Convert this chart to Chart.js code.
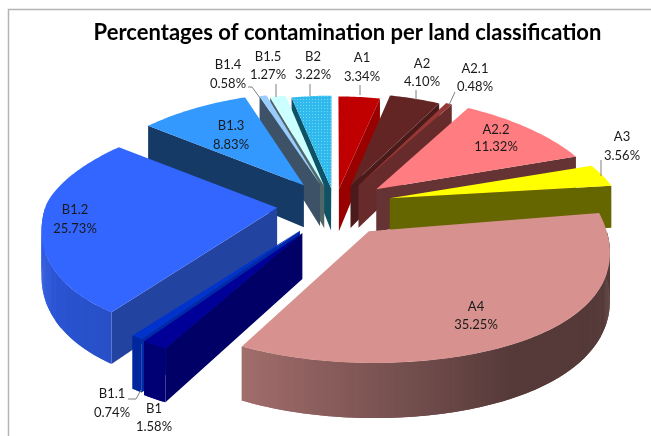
<!DOCTYPE html>
<html>
<head>
<meta charset="utf-8">
<style>
  html, body { margin: 0; padding: 0; background: #fff; }
  canvas { display: block; }
</style>
<script src="https://cdn.jsdelivr.net/npm/chart.js@4"></script>
</head>
<body>
<canvas id="chart" width="651" height="436"></canvas>
<script>
// land classes, clockwise from 12 o'clock
const categories = ['A1', 'A2', 'A2.1', 'A2.2', 'A3', 'A4', 'B1', 'B1.1', 'B1.2', 'B1.3', 'B1.4', 'B1.5', 'B2'];
const percentages = [3.34, 4.10, 0.48, 11.32, 3.56, 35.25, 1.58, 0.74, 25.73, 8.83, 0.58, 1.27, 3.22];

const topColors = ['#C00000', '#632523', '#953735', '#FF7C80', '#FFFF00', '#D79290', '#000099', '#0033CC', '#3366FF', '#3399FF', '#99CCFF', '#CCFFFF', 'pattern'];
const wallColors = ['#990000', '#4A1B1A', '#662B2A', '#663334', '#666600', '#563C3B', '#000066', '#0029A8', '#2244A0', '#163A66', '#3D5266', '#516666', '#0F5266'];
const explode = [38, 48, 52, 56, 57, 58, 60, 58, 58, 57, 52, 46, 40];

// label anchors: centre x, first line y, second line y
const labelSpots = [[362, 58, 77], [422, 64, 82], [475, 69, 87], [496, 130, 147], [622, 137, 156], [476, 307, 325],
  [154, 409, 427], [112, 394, 413], [75, 210, 229], [231, 126, 145], [228, 65, 84], [268, 57, 75], [313, 57, 75]];
const leaders = [
  [[360, 85], [360, 95]], [[416, 90], [416, 100]], [[455, 92], [449, 105]], [[601, 160], [601, 176]],
  [[248, 87], [252, 87], [260, 98]], [[276, 84], [276, 97]], [[310, 84], [310, 96]], [[128, 399], [136, 399], [141, 390]]
];

const view = { cx: 335, cy: 204, radius: 231, tiltBack: 0.40, tiltFront: 0.57, persp: 0.14, depth: 44, depthSlope: 0.04 };

function project(u, v, h) {
  const p = 1 / (1 - view.persp * v / view.radius);
  const tilt = v < 0 ? view.tiltBack : view.tiltFront;
  return { x: view.cx + u * p, y: view.cy + tilt * v + h * (view.depth + view.depthSlope * v) };
}

function dottedPattern(ctx) {
  const c = document.createElement('canvas');
  c.width = c.height = 3;
  const g = c.getContext('2d');
  g.fillStyle = '#2FB9EC';
  g.fillRect(0, 0, 3, 3);
  g.fillStyle = '#6FD6F6';
  g.fillRect(0, 0, 1, 1);
  return ctx.createPattern(c, 'repeat');
}

function shade(hex, f) {
  const n = parseInt(hex.slice(1), 16);
  return 'rgb(' + [(n >> 16) & 255, (n >> 8) & 255, n & 255].map(c => Math.round(c * f)).join(',') + ')';
}

// rim gets lighter going round to the left side
function rimShade(a) {
  const deg = a * 180 / Math.PI;
  if (deg < 150) return 0.4;
  if (deg < 210) return 0.4 + (deg - 150) / 60 * 0.36;
  return 0.76 + (deg - 210) / 60 * 0.14;
}

function fillPoly(ctx, pts, color) {
  ctx.beginPath();
  pts.forEach((q, i) => i ? ctx.lineTo(q.x, q.y) : ctx.moveTo(q.x, q.y));
  ctx.closePath();
  ctx.fillStyle = color;
  ctx.fill();
}

const pie3d = {
  id: 'pie3d',
  // the arc elements give the angles and offsets, we only project them
  beforeDatasetDraw(chart, args) {
    const ctx = chart.ctx;
    const arcs = chart.getDatasetMeta(args.index).data;
    const slices = arcs.map((arc, i) => {
      const a0 = arc.startAngle + Math.PI / 2;
      const a1 = arc.endAngle + Math.PI / 2;
      const mid = (a0 + a1) / 2;
      return { i, a0, a1, mid, ex: arc.options.offset * Math.sin(mid), ey: -arc.options.offset * Math.cos(mid) };
    }).sort((s, t) => -Math.cos(s.mid) - -Math.cos(t.mid));

    slices.forEach(s => {
      const R = view.radius;
      const at = (a, r, h) => project(s.ex + r * Math.sin(a), s.ey - r * Math.cos(a), h);
      const top = topColors[s.i] === 'pattern' ? dottedPattern(ctx) : topColors[s.i];
      const wall = wallColors[s.i];

      // cut faces that look towards the viewer
      if (Math.sin(s.a0) < 0) {
        fillPoly(ctx, [at(s.a0, 0, 0), at(s.a0, R, 0), at(s.a0, R, 1), at(s.a0, 0, 1)], wall);
      }
      if (Math.sin(s.a1) > 0) {
        fillPoly(ctx, [at(s.a1, 0, 0), at(s.a1, R, 0), at(s.a1, R, 1), at(s.a1, 0, 1)], wall);
      }

      const steps = Math.max(4, Math.ceil((s.a1 - s.a0) * 60));
      const da = (s.a1 - s.a0) / steps;

      // outer rim, front half only
      const from = Math.max(s.a0, Math.PI / 2);
      const to = Math.min(s.a1, Math.PI * 1.5);
      if (to > from) {
        const base = topColors[s.i];
        const n = Math.ceil((to - from) * 120);
        const d = (to - from) / n;
        for (let k = 0; k < n; k++) {
          const a = from + k * d;
          const b = Math.min(to, a + d * 2);
          const quad = [at(a, R, 0), at(b, R, 0), at(b, R, 1), at(a, R, 1)];
          fillPoly(ctx, quad, shade(base, rimShade(a)));
        }
      }

      const face = [at(s.a0, 0, 0)];
      for (let k = 0; k <= steps; k++) face.push(at(s.a0 + k * da, R, 0));
      fillPoly(ctx, face, top);
    });
    return false;
  },
  afterDraw(chart) {
    const ctx = chart.ctx;
    ctx.save();
    // frame of the pasted picture, only top and left show
    ctx.strokeStyle = '#B4B4B4';
    ctx.lineWidth = 1.5;
    ctx.beginPath();
    ctx.moveTo(8.5, 436);
    ctx.lineTo(8.5, 9.5);
    ctx.lineTo(651, 9.5);
    ctx.stroke();

    ctx.strokeStyle = '#7F7F7F';
    ctx.lineWidth = 1;
    leaders.forEach(line => {
      ctx.beginPath();
      line.forEach((q, i) => i ? ctx.lineTo(q[0], q[1]) : ctx.moveTo(q[0], q[1]));
      ctx.stroke();
    });

    ctx.font = '13px Lato';
    ctx.fillStyle = '#1a1a1a';
    ctx.textAlign = 'center';
    ctx.textBaseline = 'middle';
    categories.forEach((name, i) => {
      const spot = labelSpots[i];
      ctx.fillText(name, spot[0], spot[1]);
      ctx.fillText(percentages[i].toFixed(2) + '%', spot[0], spot[2]);
    });
    ctx.restore();
  }
};

new Chart(document.getElementById('chart'), {
  type: 'pie',
  data: {
    labels: categories,
    datasets: [{ data: percentages, offset: explode, borderWidth: 0 }]
  },
  options: {
    responsive: false,
    animation: false,
    events: [],
    layout: { padding: { left: 44, top: 20 } },
    plugins: {
      legend: { display: false },
      tooltip: { enabled: false },
      title: {
        display: true,
        text: 'Percentages of contamination per land classification',
        color: '#000',
        font: { family: 'Lato', size: 22, weight: 'bold' },
        padding: 0
      }
    }
  },
  plugins: [pie3d]
});
</script>
</body>
</html>
